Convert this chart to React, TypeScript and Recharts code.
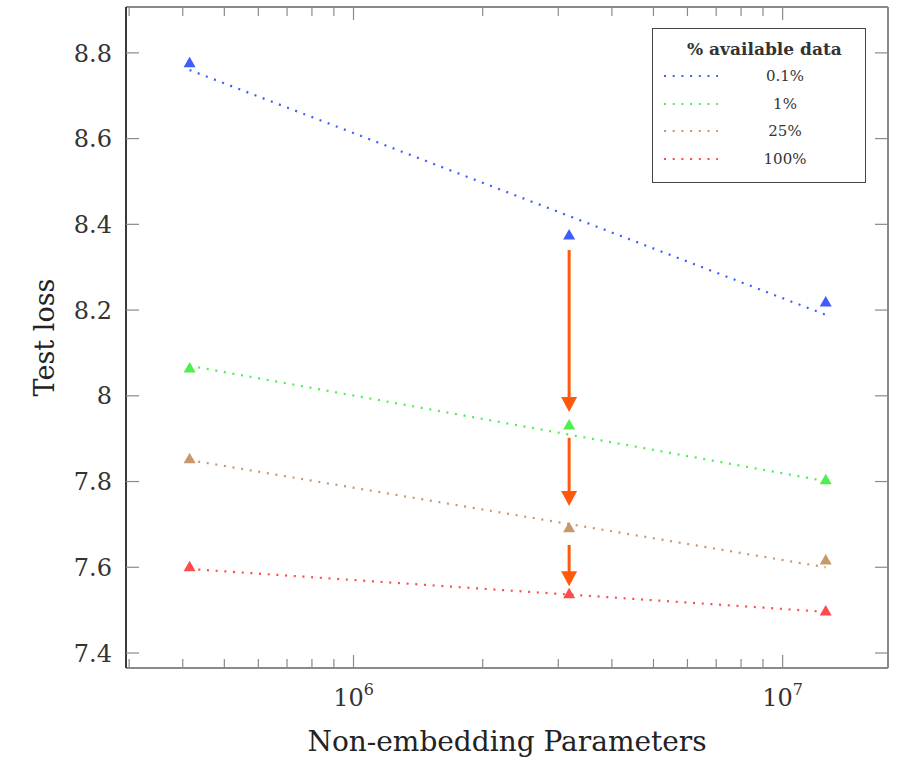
import { ComposedChart, Line, Scatter, XAxis, YAxis, ReferenceLine, Legend } from 'recharts'

const SERIES = ['0.1%', '1%', '25%', '100%']
const COLORS = ['#3f5dff', '#4cef4c', '#c8976b', '#ff4b4b']

// model sizes (non-embedding params) of the three runs
const MODEL_PARAMS = [4.15e5, 3.18e6, 1.26e7]
const LOSS_01 = [8.777, 8.375, 8.219]
const LOSS_1 = [8.065, 7.932, 7.804]
const LOSS_25 = [7.853, 7.692, 7.617]
const LOSS_100 = [7.601, 7.538, 7.498]

// dotted power-law fits, start / end value
const FIT_START = [8.76, 8.07, 7.85, 7.596]
const FIT_END = [8.189, 7.801, 7.6, 7.496]

// orange arrows at the middle model
const ARROW_X = 3.18e6
const ARROW_FROM = [8.34, 7.902, 7.652]
const ARROW_TO = [7.962, 7.743, 7.556]

const Y_TICKS = [7.4, 7.6, 7.8, 8, 8.2, 8.4, 8.6, 8.8]
const X_TICKS = [3e5, 4e5, 5e5, 6e5, 7e5, 8e5, 9e5, 1e6, 2e6, 3e6, 4e6, 5e6, 6e6, 7e6, 8e6, 9e6, 1e7]
const X_MAJOR = [1e6, 1e7]

const FONT = '"DejaVu Serif", serif'
const FRAME = '#8a8a8a'

const losses = [LOSS_01, LOSS_1, LOSS_25, LOSS_100]
const points = losses.map(l => l.map((y, i) => ({ x: MODEL_PARAMS[i], y })))
const fits = FIT_START.map((s, i) => [
  { x: MODEL_PARAMS[0], y: s },
  { x: MODEL_PARAMS[MODEL_PARAMS.length - 1], y: FIT_END[i] },
])

const Triangle = (color: string) => (p: any) => {
  const { cx, cy } = p
  if (cx == null || cy == null) return <g />
  return <polygon points={`${cx},${cy - 6} ${cx - 6},${cy + 4.5} ${cx + 6},${cy + 4.5}`} fill={color} />
}

const BottomTick = (p: any) => {
  const { x, y, payload } = p
  const major = X_MAJOR.includes(payload.value)
  const exp = Math.round(Math.log10(payload.value))
  return (
    <g>
      <line x1={x} y1={y} x2={x} y2={y - (major ? 13 : 9)} stroke={FRAME} strokeWidth={1.2} />
      {major && (
        <text x={x} y={y + 38} textAnchor="middle" fontFamily={FONT} fontSize={24} fill="#333">
          <tspan>10</tspan>
          <tspan dy={-11} fontSize={16}>{exp}</tspan>
        </text>
      )}
    </g>
  )
}

const TopTick = (p: any) => {
  const { x, y, payload } = p
  const major = X_MAJOR.includes(payload.value)
  return <line x1={x} y1={y} x2={x} y2={y + (major ? 13 : 9)} stroke={FRAME} strokeWidth={1.2} />
}

const LeftTick = (p: any) => {
  const { x, y, payload } = p
  return (
    <g>
      <line x1={x} y1={y} x2={x + 13} y2={y} stroke={FRAME} strokeWidth={1.2} />
      <text x={x - 14} y={y} dy="0.36em" textAnchor="end" fontFamily={FONT} fontSize={24} fill="#333">
        {payload.value}
      </text>
    </g>
  )
}

const RightTick = (p: any) => {
  const { x, y } = p
  return <line x1={x} y1={y} x2={x - 13} y2={y} stroke={FRAME} strokeWidth={1.2} />
}

const Arrow = (p: any) => {
  const { x1, y1, x2, y2 } = p
  const head = 15
  return (
    <g>
      <line x1={x1} y1={y1} x2={x2} y2={y2 - head + 2} stroke="#ff5a0a" strokeWidth={3} />
      <polygon points={`${x2 - 8},${y2 - head} ${x2 + 8},${y2 - head} ${x2},${y2}`} fill="#ff5a0a" />
    </g>
  )
}

const LegendBox = () => (
  <div
    style={{
      width: 214,
      height: 155,
      boxSizing: 'border-box',
      border: '1.5px solid #444',
      background: '#fff',
      fontFamily: FONT,
      color: '#333',
      position: 'relative',
    }}
  >
    <div style={{ position: 'absolute', left: 34, top: 10, fontWeight: 'bold', fontSize: 17 }}>% available data</div>
    {SERIES.map((s, i) => (
      <div key={s} style={{ position: 'absolute', left: 0, top: 37 + i * 27.7, width: '100%', height: 20 }}>
        <svg width={60} height={20} style={{ position: 'absolute', left: 8, top: 0 }}>
          <line x1={3} y1={10} x2={57} y2={10} stroke={COLORS[i]} strokeWidth={2.2} strokeDasharray="2 6.7" />
        </svg>
        <div style={{ position: 'absolute', left: 98, width: 68, textAlign: 'center', fontSize: 15, lineHeight: '20px' }}>{s}</div>
      </div>
    ))}
  </div>
)

export default function App() {
  return (
    <div style={{ position: 'absolute', left: 0, top: 0, background: '#fff' }}>
      <ComposedChart width={897} height={760} margin={{ top: 6, right: 5, bottom: 2, left: 16 }}>
        <XAxis
          xAxisId="bottom"
          dataKey="x"
          type="number"
          scale="log"
          domain={[2.95e5, 1.76e7]}
          allowDataOverflow
          ticks={X_TICKS}
          interval={0}
          height={90}
          tickSize={0}
          tickMargin={0}
          tickLine={false}
          tick={<BottomTick />}
          axisLine={{ stroke: FRAME, strokeWidth: 2 }}
          label={{
            content: ({ viewBox }: any) => (
              <text x={viewBox.x + viewBox.width / 2} y={viewBox.y + 83} textAnchor="middle" fontFamily={FONT} fontSize={28} fill="#222">
                Non-embedding Parameters
              </text>
            ),
          }}
        />
        <XAxis
          xAxisId="top"
          orientation="top"
          dataKey="x"
          type="number"
          scale="log"
          domain={[2.95e5, 1.76e7]}
          allowDataOverflow
          ticks={X_TICKS}
          interval={0}
          height={1}
          tickSize={0}
          tickMargin={0}
          tickLine={false}
          tick={<TopTick />}
          axisLine={{ stroke: FRAME, strokeWidth: 2 }}
        />
        <YAxis
          yAxisId="left"
          dataKey="y"
          type="number"
          domain={[7.365, 8.907]}
          allowDataOverflow
          ticks={Y_TICKS}
          interval={0}
          width={110}
          tickSize={0}
          tickMargin={0}
          tickLine={false}
          tick={<LeftTick />}
          axisLine={{ stroke: '#3a3a3a', strokeWidth: 2 }}
          label={{
            content: ({ viewBox }: any) => {
              const cx = viewBox.x + 29
              const cy = viewBox.y + viewBox.height / 2
              return (
                <text x={cx} y={cy} transform={`rotate(-90 ${cx} ${cy})`} textAnchor="middle" dy="0.35em" fontFamily={FONT} fontSize={27} fill="#222">
                  Test loss
                </text>
              )
            },
          }}
        />
        <YAxis
          yAxisId="right"
          orientation="right"
          dataKey="y"
          type="number"
          domain={[7.365, 8.907]}
          allowDataOverflow
          ticks={Y_TICKS}
          interval={0}
          width={4}
          tickSize={0}
          tickMargin={0}
          tickLine={false}
          tick={<RightTick />}
          axisLine={{ stroke: FRAME, strokeWidth: 2 }}
        />

        {fits.map((d, i) => (
          <Line
            key={'fit' + i}
            xAxisId="bottom"
            yAxisId="left"
            data={d}
            dataKey="y"
            stroke={COLORS[i]}
            strokeWidth={2.2}
            strokeDasharray="2 6.7"
            dot={false}
            activeDot={false}
            isAnimationActive={false}
            legendType="none"
          />
        ))}
        {points.map((d, i) => (
          <Scatter
            key={'pt' + i}
            name={SERIES[i]}
            xAxisId="bottom"
            yAxisId="left"
            data={d}
            dataKey="y"
            fill={COLORS[i]}
            shape={Triangle(COLORS[i])}
            isAnimationActive={false}
          />
        ))}
        {ARROW_FROM.map((from, i) => (
          <ReferenceLine
            key={'ar' + i}
            xAxisId="bottom"
            yAxisId="left"
            segment={[{ x: ARROW_X, y: from }, { x: ARROW_X, y: ARROW_TO[i] }]}
            shape={Arrow}
          />
        ))}

        <Legend
          layout="vertical"
          align="center"
          verticalAlign="middle"
          wrapperStyle={{ left: 652, top: 28, width: 214, height: 155 }}
          content={() => <LegendBox />}
        />
      </ComposedChart>
    </div>
  )
}
